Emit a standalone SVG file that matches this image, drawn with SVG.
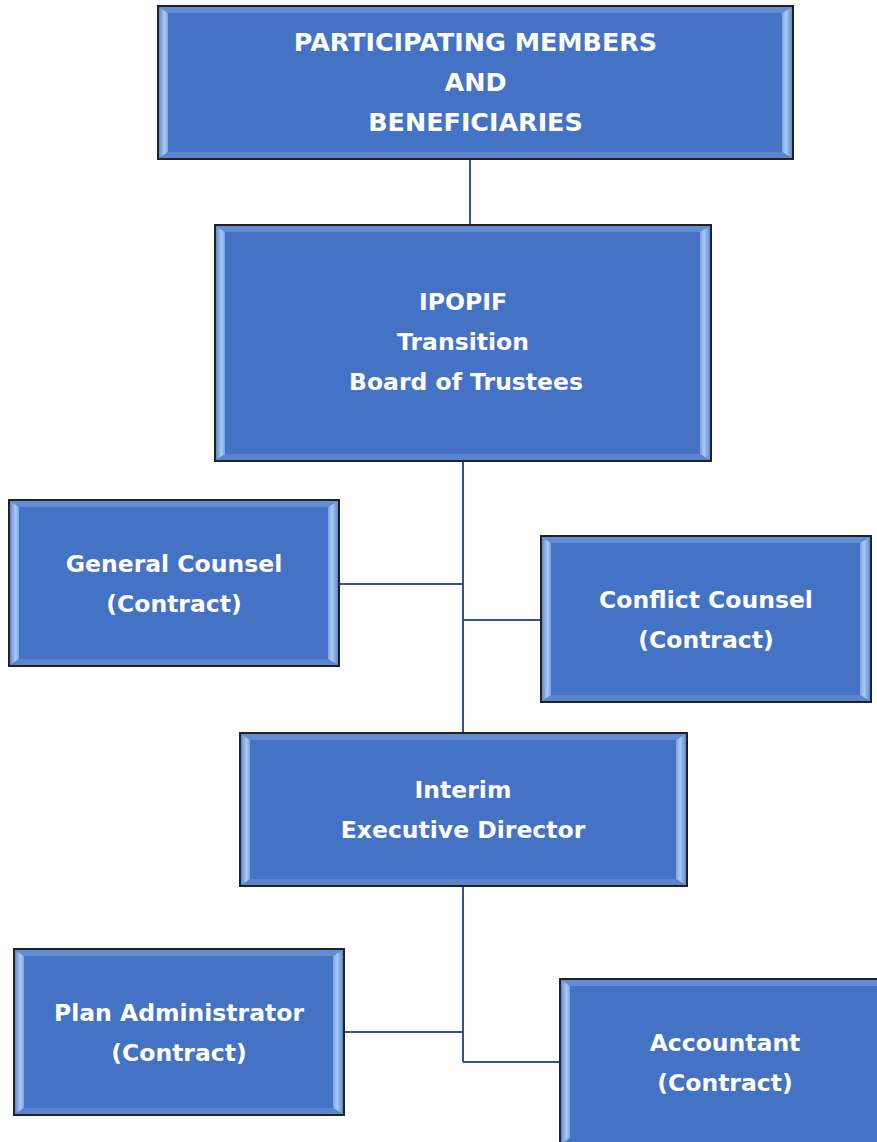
<svg xmlns="http://www.w3.org/2000/svg" width="877" height="1142" viewBox="0 0 877 1142">
<defs>
<linearGradient id="gl" x1="0" y1="0" x2="1" y2="0">
<stop offset="0" stop-color="#5F88D2"/>
<stop offset="0.6" stop-color="#A9CBF2"/>
<stop offset="1" stop-color="#7CA2E0"/>
</linearGradient>
<linearGradient id="gr" x1="1" y1="0" x2="0" y2="0">
<stop offset="0" stop-color="#5F88D2"/>
<stop offset="0.6" stop-color="#A9CBF2"/>
<stop offset="1" stop-color="#7CA2E0"/>
</linearGradient>
</defs>
<style>
.box{fill:#4472C4;stroke:#222;stroke-width:2}
.bl{fill:url(#gl)}
.br{fill:url(#gr)}
.bt{fill:#648CD4}
.bb{fill:#5C84CC}
.t{font-family:"DejaVu Sans",Verdana,sans-serif;font-weight:bold;font-size:23.5px;fill:#fff;text-anchor:middle}
.tc{font-size:25.4px}
.c{stroke:#2F5597;stroke-width:2;fill:none}
</style>
<g id="connectors">
<line class="c" x1="470" y1="159" x2="470" y2="225"/>
<line class="c" x1="463" y1="461" x2="463" y2="620" stroke-width="3"/>
<line class="c" x1="463" y1="620" x2="463" y2="733"/>
<line class="c" x1="339" y1="584" x2="463" y2="584"/>
<line class="c" x1="463" y1="620" x2="541" y2="620"/>
<line class="c" x1="463" y1="886" x2="463" y2="1062"/>
<line class="c" x1="344" y1="1032" x2="463" y2="1032"/>
<line class="c" x1="463" y1="1062" x2="560" y2="1062"/>
</g>
<g id="n1">
<rect class="box" x="158" y="6" width="635" height="153"/>
<polygon class="bt" points="159,7 792,7 782,13 168,13"/>
<polygon class="bb" points="159,158 792,158 782,152 168,152"/>
<polygon class="bl" points="159,7 168,13 168,152 159,158"/>
<polygon class="br" points="792,7 782,13 782,152 792,158"/>
<text class="t tc" x="475.5" y="51">PARTICIPATING MEMBERS</text>
<text class="t tc" x="475.5" y="91">AND</text>
<text class="t tc" x="475.5" y="131">BENEFICIARIES</text>
</g>
<g id="n2">
<rect class="box" x="215" y="225" width="496" height="236"/>
<polygon class="bt" points="216,226 710,226 700,232 225,232"/>
<polygon class="bb" points="216,460 710,460 700,454 225,454"/>
<polygon class="bl" points="216,226 225,232 225,454 216,460"/>
<polygon class="br" points="710,226 700,232 700,454 710,460"/>
<text class="t" x="463" y="309.5">IPOPIF</text>
<text class="t" x="463" y="349.5">Transition</text>
<text class="t" x="466" y="389.5">Board of Trustees</text>
</g>
<g id="n3">
<rect class="box" x="9" y="500" width="330" height="166"/>
<polygon class="bt" points="10,501 338,501 328,507 19,507"/>
<polygon class="bb" points="10,665 338,665 328,659 19,659"/>
<polygon class="bl" points="10,501 19,507 19,659 10,665"/>
<polygon class="br" points="338,501 328,507 328,659 338,665"/>
<text class="t" x="174" y="571.5">General Counsel</text>
<text class="t" x="174" y="611.5">(Contract)</text>
</g>
<g id="n4">
<rect class="box" x="541" y="536" width="330" height="166"/>
<polygon class="bt" points="542,537 870,537 860,543 551,543"/>
<polygon class="bb" points="542,701 870,701 860,695 551,695"/>
<polygon class="bl" points="542,537 551,543 551,695 542,701"/>
<polygon class="br" points="870,537 860,543 860,695 870,701"/>
<text class="t" x="706" y="607.5">Conflict Counsel</text>
<text class="t" x="706" y="647.5">(Contract)</text>
</g>
<g id="n5">
<rect class="box" x="240" y="733" width="447" height="153"/>
<polygon class="bt" points="241,734 686,734 676,740 250,740"/>
<polygon class="bb" points="241,885 686,885 676,879 250,879"/>
<polygon class="bl" points="241,734 250,740 250,879 241,885"/>
<polygon class="br" points="686,734 676,740 676,879 686,885"/>
<text class="t" x="463" y="797.5">Interim</text>
<text class="t" x="463" y="837.5">Executive Director</text>
</g>
<g id="n6">
<rect class="box" x="14" y="949" width="330" height="166"/>
<polygon class="bt" points="15,950 343,950 333,956 24,956"/>
<polygon class="bb" points="15,1114 343,1114 333,1108 24,1108"/>
<polygon class="bl" points="15,950 24,956 24,1108 15,1114"/>
<polygon class="br" points="343,950 333,956 333,1108 343,1114"/>
<text class="t" x="179" y="1020.5">Plan Administrator</text>
<text class="t" x="179" y="1060.5">(Contract)</text>
</g>
<g id="n7">
<rect class="box" x="560" y="979" width="330" height="166"/>
<polygon class="bt" points="561,980 889,980 879,986 570,986"/>
<polygon class="bl" points="561,980 570,986 570,1138 561,1144"/>
<text class="t" x="725" y="1050.5">Accountant</text>
<text class="t" x="725" y="1090.5">(Contract)</text>
</g>
</svg>
